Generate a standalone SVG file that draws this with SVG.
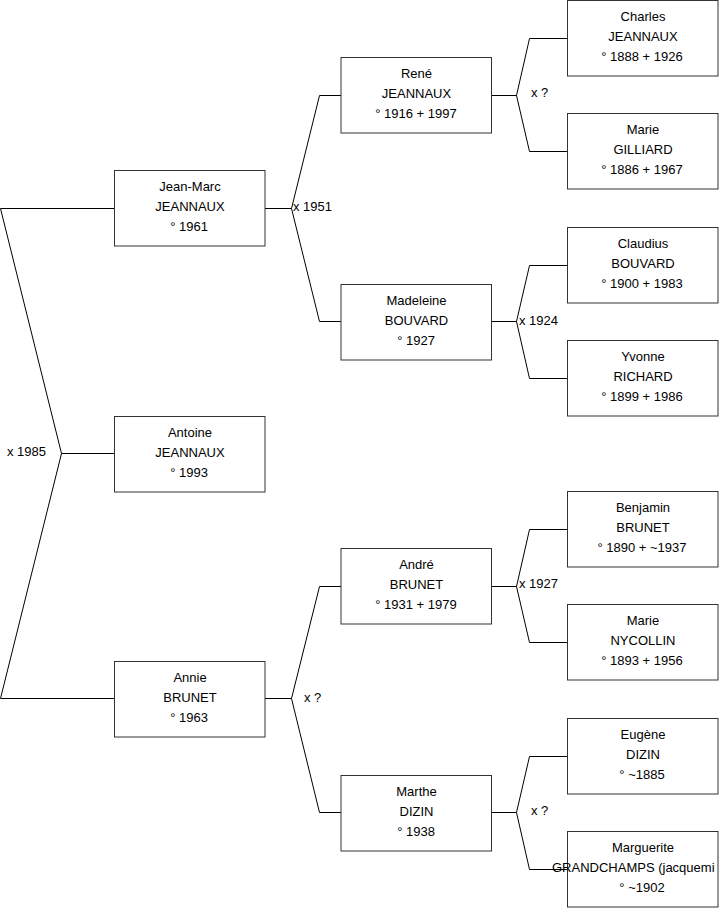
<svg xmlns="http://www.w3.org/2000/svg" width="719" height="908" viewBox="0 0 719 908">
<style>
.box{fill:#fff;stroke:#333;stroke-width:1}
.c{fill:none;stroke:#000;stroke-width:1}
text{font-family:"Liberation Sans",Arial,sans-serif;font-size:13px;fill:#000}
.m{text-anchor:middle}
</style>
<rect width="719" height="908" fill="#fff"/>
<g id="connectors">
<polyline class="c" points="114,208.5 0.5,208.5 61.5,453.5 0.5,698.5 114,698.5"/>
<line class="c" x1="61.5" y1="453.5" x2="114" y2="453.5"/>
<polyline class="c" points="341,95.5 319.5,95.5 291.5,208.5 319.5,321.5 341,321.5"/>
<line class="c" x1="265" y1="208.5" x2="291.5" y2="208.5"/>
<polyline class="c" points="341,586.5 319.5,586.5 291.5,698.5 319.5,812.5 341,812.5"/>
<line class="c" x1="265" y1="698.5" x2="291.5" y2="698.5"/>
<polyline class="c" points="567,38.5 529.5,38.5 516.5,95.5 529.5,151.5 567,151.5"/>
<line class="c" x1="492" y1="95.5" x2="516.5" y2="95.5"/>
<polyline class="c" points="567,265.5 529.5,265.5 516.5,321.5 529.5,378.5 567,378.5"/>
<line class="c" x1="492" y1="321.5" x2="516.5" y2="321.5"/>
<polyline class="c" points="567,529.5 529.5,529.5 516.5,586.5 529.5,642.5 567,642.5"/>
<line class="c" x1="492" y1="586.5" x2="516.5" y2="586.5"/>
<polyline class="c" points="567,756.5 529.5,756.5 516.5,812.5 529.5,869.5 567,869.5"/>
<line class="c" x1="492" y1="812.5" x2="516.5" y2="812.5"/>
<text x="7" y="456">x 1985</text>
<text x="293" y="211">x 1951</text>
<text x="531" y="97">x ?</text>
<text x="519" y="325">x 1924</text>
<text x="304" y="702">x ?</text>
<text x="519" y="588">x 1927</text>
<text x="531" y="815">x ?</text>
</g>
<g id="jeanmarc"><rect class="box" x="114.5" y="170.5" width="150.5" height="75.5"/><text class="m" x="190" y="191">Jean-Marc</text><text class="m" x="190" y="211">JEANNAUX</text><text class="m" x="189" y="231">° 1961</text></g>
<g id="antoine"><rect class="box" x="114.5" y="416.5" width="150.5" height="75.5"/><text class="m" x="190" y="437">Antoine</text><text class="m" x="190" y="457">JEANNAUX</text><text class="m" x="189" y="477">° 1993</text></g>
<g id="annie"><rect class="box" x="114.5" y="661.5" width="150.5" height="75.5"/><text class="m" x="190" y="682">Annie</text><text class="m" x="190" y="702">BRUNET</text><text class="m" x="189" y="722">° 1963</text></g>
<g id="rene"><rect class="box" x="341" y="57.5" width="150.5" height="75.5"/><text class="m" x="416.5" y="78">René</text><text class="m" x="416.5" y="98">JEANNAUX</text><text class="m" x="416" y="118">° 1916 + 1997</text></g>
<g id="madeleine"><rect class="box" x="341" y="284.5" width="150.5" height="75.5"/><text class="m" x="416.5" y="305">Madeleine</text><text class="m" x="416.5" y="325">BOUVARD</text><text class="m" x="416" y="345">° 1927</text></g>
<g id="andre"><rect class="box" x="341" y="548.5" width="150.5" height="75.5"/><text class="m" x="416.5" y="569">André</text><text class="m" x="416.5" y="589">BRUNET</text><text class="m" x="416" y="609">° 1931 + 1979</text></g>
<g id="marthe"><rect class="box" x="341" y="775.5" width="150.5" height="75.5"/><text class="m" x="416.5" y="796">Marthe</text><text class="m" x="416.5" y="816">DIZIN</text><text class="m" x="416" y="836">° 1938</text></g>
<g id="charles"><rect class="box" x="567.5" y="0.5" width="150.5" height="75.5"/><text class="m" x="643" y="21">Charles</text><text class="m" x="643" y="41">JEANNAUX</text><text class="m" x="642" y="61">° 1888 + 1926</text></g>
<g id="marie-gilliard"><rect class="box" x="567.5" y="113.5" width="150.5" height="75.5"/><text class="m" x="643" y="134">Marie</text><text class="m" x="643" y="154">GILLIARD</text><text class="m" x="642" y="174">° 1886 + 1967</text></g>
<g id="claudius"><rect class="box" x="567.5" y="227.5" width="150.5" height="75.5"/><text class="m" x="643" y="248">Claudius</text><text class="m" x="643" y="268">BOUVARD</text><text class="m" x="642" y="288">° 1900 + 1983</text></g>
<g id="yvonne"><rect class="box" x="567.5" y="340.5" width="150.5" height="75.5"/><text class="m" x="643" y="361">Yvonne</text><text class="m" x="643" y="381">RICHARD</text><text class="m" x="642" y="401">° 1899 + 1986</text></g>
<g id="benjamin"><rect class="box" x="567.5" y="491.5" width="150.5" height="75.5"/><text class="m" x="643" y="512">Benjamin</text><text class="m" x="643" y="532">BRUNET</text><text class="m" x="642" y="552">° 1890 + ~1937</text></g>
<g id="marie-nycollin"><rect class="box" x="567.5" y="604.5" width="150.5" height="75.5"/><text class="m" x="643" y="625">Marie</text><text class="m" x="643" y="645">NYCOLLIN</text><text class="m" x="642" y="665">° 1893 + 1956</text></g>
<g id="eugene"><rect class="box" x="567.5" y="718.5" width="150.5" height="75.5"/><text class="m" x="643" y="739">Eugène</text><text class="m" x="643" y="759">DIZIN</text><text class="m" x="642" y="779">° ~1885</text></g>
<g id="marguerite"><rect class="box" x="567.5" y="831.5" width="150.5" height="75.5"/><text class="m" x="643" y="852">Marguerite</text><text x="552" y="872">GRANDCHAMPS (jacquemi</text><text class="m" x="642" y="892">° ~1902</text></g>
</svg>
